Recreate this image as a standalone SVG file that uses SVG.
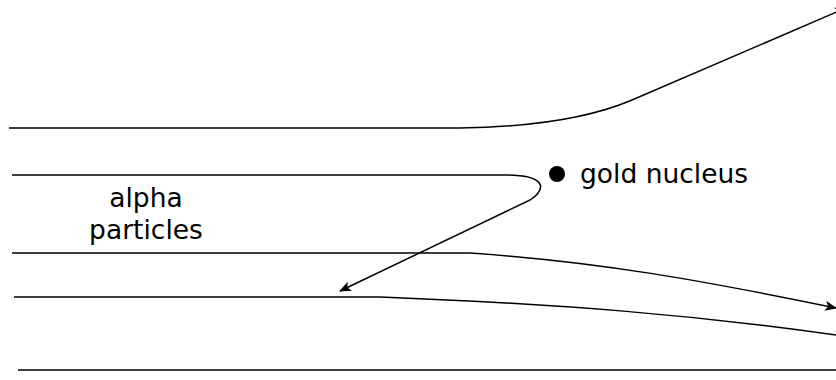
<svg xmlns="http://www.w3.org/2000/svg" width="836" height="380" viewBox="0 0 836 380">
<style>
.p{fill:none;stroke:#000;stroke-width:1.5}
text{font-family:"DejaVu Sans",sans-serif;font-size:26.5px;fill:#000}
</style>
<defs>
<marker id="a" markerWidth="12" markerHeight="10" refX="11" refY="5" orient="auto" markerUnits="userSpaceOnUse">
<path d="M0,0 L12,5 L0,10 L3,5 Z" fill="#000"/>
</marker>
</defs>
<rect width="836" height="380" fill="#fff"/>
<g id="connectors">
<path class="p" d="M9,128 L460,128 C530,127 590,118 632,100 L846,8" marker-end="url(#a)"/>
<path class="p" d="M12,175 L505,175 C545,175 548,188 530,200 L340,291" marker-end="url(#a)"/>
<path class="p" d="M12,253 L470,253 C600,262 700,280 836,308" marker-end="url(#a)"/>
<path class="p" d="M14,297 L380,297 C560,304 700,315 850,337" marker-end="url(#a)"/>
<path class="p" d="M18,370 L847,370" marker-end="url(#a)"/>
</g>
<g id="nucleus">
<circle cx="557" cy="174" r="8" fill="#000"/>
<text x="580" y="183">gold nucleus</text>
</g>
<g id="label">
<text x="146" y="207" text-anchor="middle">alpha</text>
<text x="146" y="239" text-anchor="middle">particles</text>
</g>
</svg>
